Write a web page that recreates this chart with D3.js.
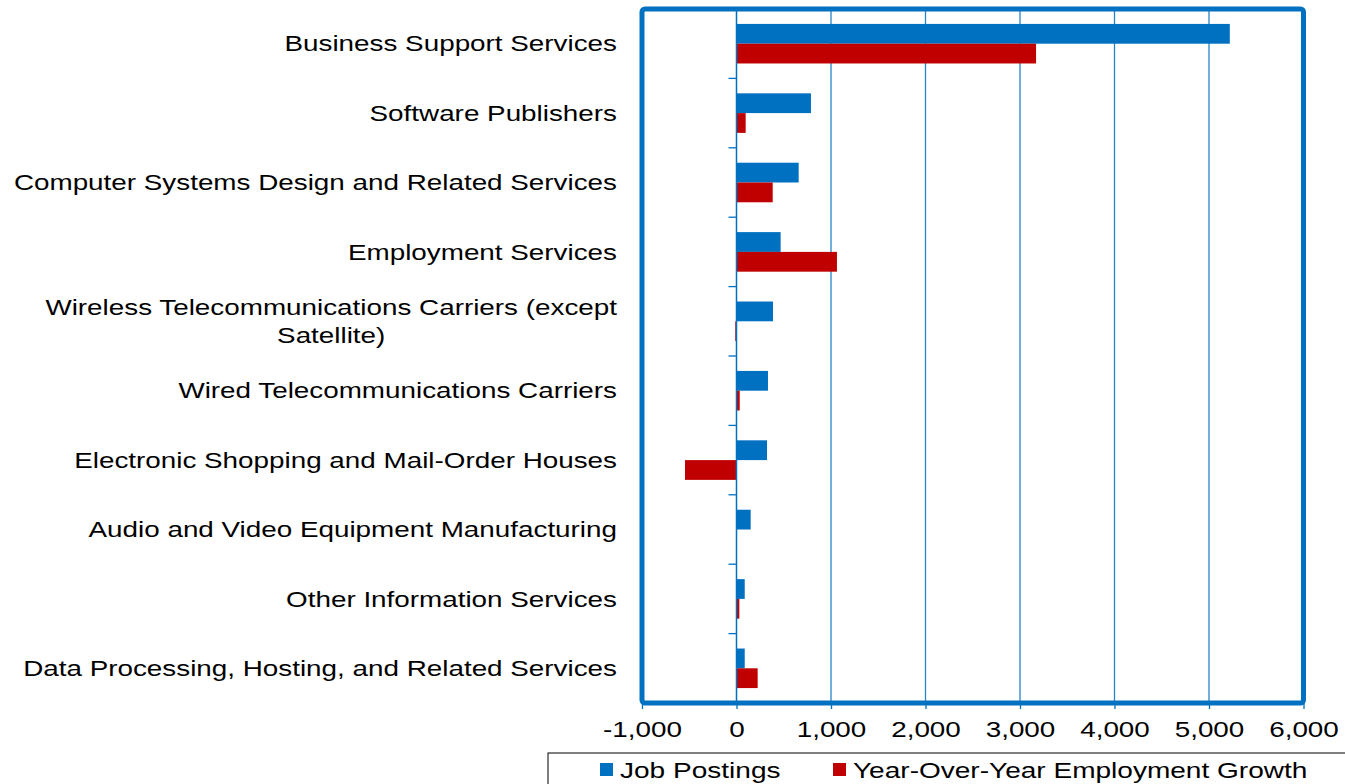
<!DOCTYPE html>
<html><head><meta charset="utf-8">
<script src="https://cdn.jsdelivr.net/npm/d3@7"></script>
<style>body{margin:0;background:#fff;} svg{display:block;font-family:"Liberation Sans",Arial,sans-serif;}</style>
</head><body>
<svg id="c" width="1345" height="784"></svg>
<script>
const categories = [
  ["Business Support Services"],
  ["Software Publishers"],
  ["Computer Systems Design and Related Services"],
  ["Employment Services"],
  ["Wireless Telecommunications Carriers (except", "Satellite)"],
  ["Wired Telecommunications Carriers"],
  ["Electronic Shopping and Mail-Order Houses"],
  ["Audio and Video Equipment Manufacturing"],
  ["Other Information Services"],
  ["Data Processing, Hosting, and Related Services"]
];
const jobPostings = [5220, 788, 658, 467, 386, 333, 323, 150, 87, 87];
const employmentGrowth = [3170, 97, 383, 1063, -13, 34, -545, 0, 30, 224];
const seriesNames = ["Job Postings", "Year-Over-Year Employment Growth"];
const seriesColors = ["#0070C0", "#C00000"];
const xTicks = [-1000, 0, 1000, 2000, 3000, 4000, 5000, 6000];

const SX = 1.265; // horizontal stretch of text in the reference
const svg = d3.select("#c");
const L = 642, R = 1303.5, T = 9, B = 703;
const x = d3.scaleLinear().domain([-1000, 6000]).range([L, R]);
const keys = categories.map(c => c.join(" "));
const y = d3.scaleBand().domain(keys).range([T, B]).padding(0);
const y1 = d3.scaleBand().domain(seriesNames).range([y.bandwidth()*0.215, y.bandwidth()*0.785]).padding(0);
const blue = "#0070C0";

// gridlines
svg.append("g").selectAll("line").data(xTicks.filter(d => d > 0 && d < 6000)).join("line")
  .attr("x1", d => x(d)).attr("x2", d => x(d)).attr("y1", T).attr("y2", B)
  .attr("stroke", blue).attr("stroke-width", 1.3).attr("opacity", 0.85);

// bars
const groups = svg.append("g").selectAll("g").data(keys).join("g")
  .attr("transform", d => `translate(0,${y(d)})`);
groups.each(function(k, i) {
  const vals = [jobPostings[i], employmentGrowth[i]];
  d3.select(this).selectAll("rect").data(vals).join("rect")
    .attr("x", v => x(Math.min(0, v)))
    .attr("width", v => Math.abs(x(v) - x(0)))
    .attr("y", (v, j) => y1(seriesNames[j]))
    .attr("height", y1.bandwidth())
    .attr("fill", (v, j) => seriesColors[j]);
});

// zero axis line
svg.append("line").attr("x1", x(0)).attr("x2", x(0)).attr("y1", T).attr("y2", B)
  .attr("stroke", blue).attr("stroke-width", 1.5);
// category ticks
svg.append("g").selectAll("line").data(keys.slice(1)).join("line")
  .attr("x1", x(0) - 8).attr("x2", x(0)).attr("y1", d => y(d)).attr("y2", d => y(d))
  .attr("stroke", blue).attr("stroke-width", 1.3);

// frame
svg.append("rect").attr("x", L).attr("y", T).attr("width", R - L).attr("height", B - T)
  .attr("fill", "none").attr("stroke", blue).attr("stroke-width", 5).attr("rx", 3);

// x axis
const xa = svg.append("g").attr("transform", `translate(0,${B})`)
  .call(d3.axisBottom(x).tickValues(xTicks).tickSize(6).tickFormat(d => d3.format(",")(d).replace("\u2212", "-")));
xa.select(".domain").remove();
xa.selectAll(".tick line").attr("stroke", blue).attr("stroke-width", 1.3);
xa.selectAll(".tick text").attr("fill", "#000").attr("font-size", 22)
  .attr("font-family", '"Liberation Sans",Arial,sans-serif').attr("y", 18).attr("dy", "0.71em")
  .attr("transform", `scale(${SX},1)`);

// category labels
const lab = svg.append("g");
categories.forEach((lines, i) => {
  const cy = y(keys[i]) + y.bandwidth()/2;
  const g = lab.append("g").attr("transform", `translate(617,0) scale(${SX},1)`);
  const t = g.append("text").attr("font-size", 22).attr("fill", "#000").attr("text-anchor", "middle");
  const n = lines.length, lh = 28;
  lines.forEach((ln, j) => {
    t.append("tspan").attr("x", 0).attr("y", cy + (j - (n-1)/2) * lh).attr("dy", "0.35em").text(ln);
  });
  let maxW = 0;
  t.selectAll("tspan").each(function(){ maxW = Math.max(maxW, this.getComputedTextLength()); });
  t.selectAll("tspan").attr("x", -maxW/2);
});

// legend
const lg = svg.append("g");
lg.append("rect").attr("x", 548).attr("y", 753).attr("width", 820).attr("height", 60)
  .attr("fill", "#fff").attr("stroke", "#000").attr("stroke-width", 1);
const legX = [600, 833];
seriesNames.forEach((s, j) => {
  lg.append("rect").attr("x", legX[j]).attr("y", 763).attr("width", 13).attr("height", 13).attr("fill", seriesColors[j]);
  lg.append("text").attr("transform", `translate(${legX[j] + 20},770) scale(1.275,1)`).attr("dy", "0.35em")
    .attr("font-size", 22).attr("fill", "#000").text(s);
});
</script>
</body></html>
